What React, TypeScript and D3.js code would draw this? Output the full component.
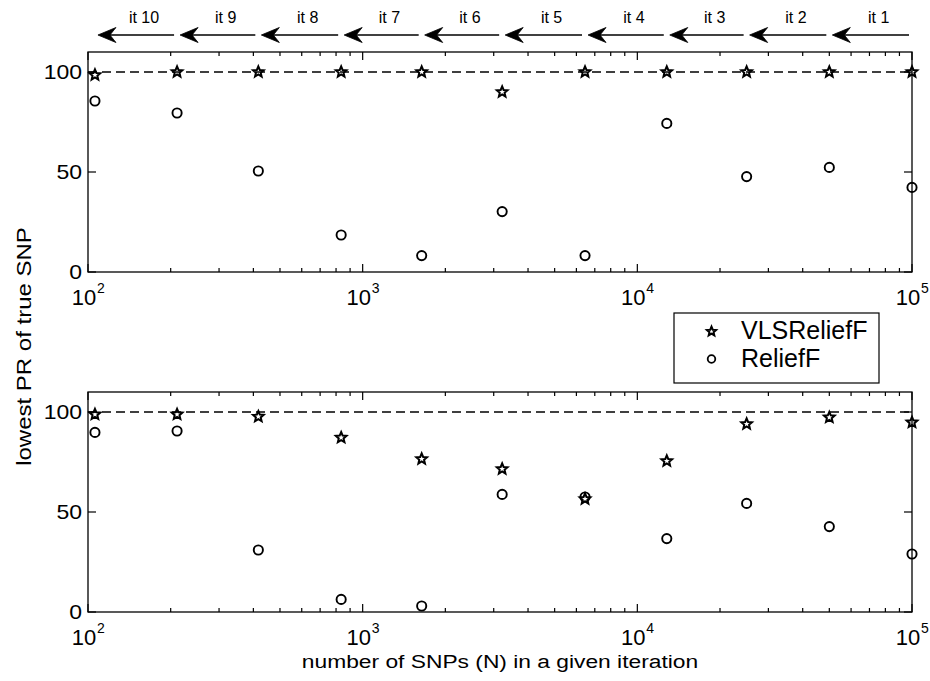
import * as d3 from 'd3'

// number of SNPs kept at each iteration (ascending)
const nSnps = [106, 211, 417, 835, 1640, 3220, 6450, 12800, 25000, 50000, 100000]

// upper panel
const topVLS = [98.5, 100, 100, 100, 100, 90, 100, 100, 100, 100, 100]
const topRelief = [85.5, 79.5, 50.5, 18.5, 8.2, 30.2, 8.2, 74.3, 47.7, 52.3, 42.3]

// lower panel
const botVLS = [98.8, 98.8, 97.7, 87.2, 76.5, 71.5, 56.5, 75.5, 94, 97.3, 94.8]
const botRelief = [89.8, 90.5, 31, 6.3, 3, 58.8, 57.5, 36.7, 54.3, 42.7, 29]

const iterLabels = ['it 1', 'it 2', 'it 3', 'it 4', 'it 5', 'it 6', 'it 7', 'it 8', 'it 9', 'it 10']
const yTicks = [0, 50, 100]
const xMajor = [100, 1000, 10000, 100000]
const seriesNames = ['VLSReliefF', 'ReliefF']

const W = 930, H = 681
const left = 88, right = 912
const font = 'Arial, "Liberation Sans", Helvetica, sans-serif'

const x = d3.scaleLog().domain([100, 100000]).range([left, right])

function starPath(R: number) {
  const r = R * 0.45
  const pts: [number, number][] = []
  for (let i = 0; i < 10; i++) {
    const a = -Math.PI / 2 + i * Math.PI / 5
    const rr = i % 2 === 0 ? R : r
    pts.push([rr * Math.cos(a), rr * Math.sin(a)])
  }
  return d3.line()(pts) + 'Z'
}
const STAR = starPath(5.6)

function Panel({ top, bottom, vls, relief }: { top: number, bottom: number, vls: number[], relief: number[] }) {
  const y = d3.scaleLinear().domain([0, 110]).range([bottom, top])
  const minor: number[] = []
  for (let d = 100; d < 100000; d *= 10) for (let k = 2; k <= 9; k++) minor.push(d * k)

  return (
    <g>
      {/* dashed reference at 100 */}
      <line x1={left} x2={right} y1={y(100)} y2={y(100)} stroke="#000" strokeWidth={1.4} strokeDasharray="9 5" />

      {/* ticks */}
      {xMajor.map(v => (
        <g key={'M' + v}>
          <line x1={x(v)} x2={x(v)} y1={bottom} y2={bottom - 8} stroke="#000" strokeWidth={1.2} />
          <line x1={x(v)} x2={x(v)} y1={top} y2={top + 8} stroke="#000" strokeWidth={1.2} />
        </g>
      ))}
      {minor.map(v => (
        <g key={'m' + v}>
          <line x1={x(v)} x2={x(v)} y1={bottom} y2={bottom - 4} stroke="#000" strokeWidth={1.2} />
          <line x1={x(v)} x2={x(v)} y1={top} y2={top + 4} stroke="#000" strokeWidth={1.2} />
        </g>
      ))}
      {yTicks.map(v => (
        <g key={'y' + v}>
          <line x1={left} x2={left + 8} y1={y(v)} y2={y(v)} stroke="#000" strokeWidth={1.2} />
          <line x1={right} x2={right - 8} y1={y(v)} y2={y(v)} stroke="#000" strokeWidth={1.2} />
          <text transform={`translate(${left - 6},${y(v) + 7}) scale(1.15,1)`} textAnchor="end"
            fontFamily={font} fontSize={20}>{v}</text>
        </g>
      ))}
      {xMajor.map(v => (
        <g key={'xl' + v} fontFamily={font}>
          <text x={x(v) - 4} y={bottom + 33} textAnchor="middle" fontSize={22}>10</text>
          <text x={x(v) + 9} y={bottom + 21} fontSize={14}>{Math.round(Math.log10(v))}</text>
        </g>
      ))}

      <rect x={left} y={top} width={right - left} height={bottom - top} fill="none" stroke="#000" strokeWidth={1.3} />

      {/* markers */}
      {relief.map((v, i) => (
        <circle key={'c' + i} cx={x(nSnps[i])} cy={y(v)} r={4.6} fill="none" stroke="#000" strokeWidth={1.9} />
      ))}
      {vls.map((v, i) => (
        <path key={'s' + i} d={STAR} transform={`translate(${x(nSnps[i])},${y(v)})`} fill="none" stroke="#000" strokeWidth={2} />
      ))}
    </g>
  )
}

function Arrows() {
  const ay = 35
  return (
    <g>
      {iterLabels.map((lab, k) => {
        const from = nSnps[nSnps.length - 1 - k]
        const to = nSnps[nSnps.length - 2 - k]
        const tail = x(from) - 3
        const tip = x(to) + 3
        return (
          <g key={lab}>
            <line x1={tail} x2={tip + 10} y1={ay} y2={ay} stroke="#000" strokeWidth={1.4} />
            <path d={`M${tip},${ay} L${tip + 18},${ay - 7.5} L${tip + 12},${ay} L${tip + 18},${ay + 7.5} Z`} fill="#000" stroke="#000" strokeWidth={0.8} strokeLinejoin="round" />
            <text x={(tail + tip) / 2 + 8} y={23} textAnchor="middle" fontFamily={font} fontSize={16}>{lab}</text>
          </g>
        )
      })}
    </g>
  )
}

export default function App() {
  return (
    <div style={{ position: 'absolute', left: 0, top: 0 }}>
      <svg width={W} height={H} style={{ display: 'block', background: '#fff' }}>
        <Arrows />
        <Panel top={52} bottom={272} vls={topVLS} relief={topRelief} />
        <Panel top={392} bottom={612} vls={botVLS} relief={botRelief} />

        {/* legend */}
        <g fontFamily={font}>
          <rect x={674} y={313} width={205} height={70} fill="#fff" stroke="#000" strokeWidth={1.2} />
          <path d={starPath(4.8)} transform="translate(711.5,331.5)" fill="none" stroke="#000" strokeWidth={2} />
          <text x={741} y={339} fontSize={25}>{seriesNames[0]}</text>
          <circle cx={711.5} cy={359} r={3.8} fill="none" stroke="#000" strokeWidth={1.8} />
          <text x={741} y={367} fontSize={25}>{seriesNames[1]}</text>
        </g>

        <text transform="translate(500,668) scale(1.2,1)" textAnchor="middle" fontFamily={font} fontSize={19}>
          number of SNPs (N) in a given iteration
        </text>
        <text transform="translate(31,346.5) rotate(-90) scale(1.2,1)" textAnchor="middle" fontFamily={font} fontSize={20}>
          lowest PR of true SNP
        </text>
      </svg>
    </div>
  )
}
